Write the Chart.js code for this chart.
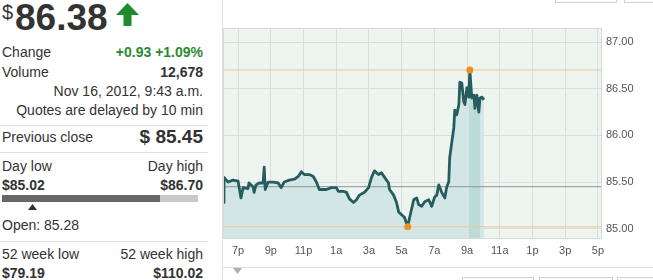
<!DOCTYPE html>
<html>
<head>
<meta charset="utf-8">
<script src="https://cdn.jsdelivr.net/npm/chart.js@4.4.0/dist/chart.umd.min.js"></script>
<style>
body{margin:0;width:653px;height:280px;overflow:hidden;background:#fff;font-family:Arial,"Liberation Sans",sans-serif;color:#333;position:relative}
.t{position:absolute;font-size:14px;line-height:16px;white-space:nowrap}
.r{right:450px;text-align:right}
.b{font-weight:bold}
.g{color:#2b8a2f}
.sep{position:absolute;left:0;width:208px;height:1px;background:#dde1e1}
.box{position:absolute;border:1px solid #cfd3d3;background:#fff}
#wrap{position:absolute;left:223px;top:0;width:430px;height:262px}
</style>
</head>
<body>
<div class="t" style="left:2px;top:2px;font-size:20px;line-height:20px">$</div>
<div class="t b" style="left:15px;top:-1px;font-size:37px;line-height:37px">86.38</div>
<svg style="position:absolute;left:116px;top:3px" width="23" height="23"><polygon points="11.5,0 23,12 15.5,12 15.5,23 7.5,23 7.5,12 0,12" fill="#1e8c2c"/></svg>

<div class="t" style="left:2px;top:44px">Change</div>
<div class="t r b g" style="top:44px">+0.93 +1.09%</div>
<div class="t" style="left:2px;top:64px">Volume</div>
<div class="t r b" style="top:64px">12,678</div>
<div class="t r" style="top:83px">Nov 16, 2012, 9:43 a.m.</div>
<div class="t r" style="top:102px">Quotes are delayed by 10 min</div>
<div class="sep" style="top:125px"></div>
<div class="t" style="left:2px;top:129px">Previous close</div>
<div class="t r b" style="top:127px;font-size:19px;line-height:20px">$ 85.45</div>
<div class="sep" style="top:152px"></div>
<div class="t" style="left:2px;top:158px">Day low</div>
<div class="t r" style="top:158px">Day high</div>
<div class="t b" style="left:2px;top:177px">$85.02</div>
<div class="t r b" style="top:177px">$86.70</div>
<div style="position:absolute;left:2px;top:195px;width:158px;height:7px;background:#676767"></div>
<div style="position:absolute;left:160px;top:195px;width:38px;height:7px;background:#c9c9c9"></div>
<svg style="position:absolute;left:28px;top:204px" width="9" height="6"><polygon points="4.5,0 9,6 0,6" fill="#333"/></svg>
<div class="t" style="left:2px;top:217px">Open: 85.28</div>
<div class="sep" style="top:241px"></div>
<div class="t" style="left:2px;top:246px">52 week low</div>
<div class="t r" style="top:246px">52 week high</div>
<div class="t b" style="left:2px;top:265px">$79.19</div>
<div class="t r b" style="top:265px">$110.02</div>

<div style="position:absolute;left:222px;top:0;width:1px;height:280px;background:#dde1e1"></div>
<div style="position:absolute;left:222px;top:267px;width:431px;height:1px;background:#dde1e1"></div>
<svg style="position:absolute;left:233px;top:268px" width="9" height="6"><polygon points="0,0 9,0 4.5,6" fill="#a7b0b4"/></svg>
<div class="box" style="left:555px;top:-6px;width:60px;height:7px"></div>
<div class="box" style="left:624px;top:-6px;width:40px;height:7px"></div>
<div class="box" style="left:462px;top:277px;width:70px;height:10px"></div>
<div class="box" style="left:539px;top:277px;width:72px;height:10px"></div>
<div class="box" style="left:617px;top:277px;width:50px;height:10px"></div>

<div id="wrap"><canvas id="myChart"></canvas></div>

<script>
// hours counted from midnight Nov 15 (24 = midnight, 33 = 9a Nov 16)
const hours = [18.08, 18.14, 18.39, 18.69, 19.00, 19.18, 19.31, 19.61, 19.67, 19.92, 19.98, 20.10, 20.29, 20.53, 20.60, 20.66,
  20.84, 21.15, 21.45, 21.64, 21.82, 22.13, 22.44, 22.68, 22.87, 23.05, 23.36, 23.60, 23.79, 23.97, 24.40, 24.71,
  25.01, 25.13, 25.44, 25.63, 25.81, 26.06, 26.24, 26.42, 26.73, 26.98, 27.16, 27.34, 27.59, 27.77, 27.96, 28.20,
  28.26, 28.51, 28.69, 28.82, 29.00, 29.18, 29.37, 29.49, 29.74, 29.92, 30.04, 30.23, 30.41, 30.66, 30.84, 31.02,
  31.15, 31.27, 31.45, 31.64, 31.76, 31.88, 31.94, 32.07, 32.19, 32.25, 32.37, 32.50, 32.56, 32.68, 32.80, 32.87,
  32.99, 33.11, 33.17, 33.29, 33.42, 33.48, 33.60, 33.72, 33.79, 33.91, 34.03];
const prices = [85.28, 85.55, 85.50, 85.52, 85.51, 85.33, 85.44, 85.43, 85.49, 85.45, 85.39, 85.47, 85.49, 85.49, 85.66, 85.42,
  85.50, 85.50, 85.49, 85.44, 85.50, 85.52, 85.53, 85.56, 85.61, 85.58, 85.58, 85.56, 85.50, 85.42, 85.42, 85.44,
  85.44, 85.40, 85.40, 85.39, 85.32, 85.28, 85.31, 85.36, 85.39, 85.44, 85.55, 85.62, 85.58, 85.60, 85.55, 85.49,
  85.42, 85.36, 85.28, 85.18, 85.15, 85.12, 85.02, 85.12, 85.31, 85.33, 85.26, 85.24, 85.29, 85.31, 85.24, 85.34,
  85.36, 85.47, 85.39, 85.33, 85.45, 85.50, 85.76, 85.93, 86.08, 86.27, 86.22, 86.33, 86.57, 86.56, 86.36, 86.33,
  86.51, 86.41, 86.70, 86.40, 86.43, 86.29, 86.43, 86.25, 86.40, 86.41, 86.38];
const tickHours = [19, 21, 23, 25, 27, 29, 31, 33, 35, 37, 39, 41];
const tickLabels = ['7p', '9p', '11p', '1a', '3a', '5a', '7a', '9a', '11a', '1p', '3p', '5p'];
const priceTicks = [85.00, 85.50, 86.00, 86.50, 87.00];
const prevClose = 85.45;
const dayHigh = 86.70, dayLow = 85.02;
const highHour = 33.17, lowHour = 29.37;
const sessionStart = 33.0, sessionEnd = 33.79;

const xMin = 18.08, xMax = 41.25;
const points = hours.map((h, i) => ({x: h, y: prices[i]}));
const sessionPoints = points.filter(p => p.x >= sessionStart && p.x <= sessionEnd);
const flat = v => [{x: xMin, y: v}, {x: xMax, y: v}];

const plotBg = {
  id: 'plotBg',
  beforeDraw(chart) {
    const a = chart.chartArea, c = chart.ctx;
    c.save();
    c.fillStyle = '#eef5f1';
    c.fillRect(a.left, a.top, a.right - a.left, a.bottom - a.top);
    c.restore();
  },
  afterDatasetsDraw(chart) {
    const a = chart.chartArea, c = chart.ctx;
    c.save();
    c.strokeStyle = '#d3dbd8';
    c.lineWidth = 1;
    c.strokeRect(a.left + 0.5, a.top + 0.5, a.right - a.left - 1, a.bottom - a.top - 1);
    c.restore();
  }
};

new Chart(document.getElementById('myChart'), {
  type: 'line',
  data: {
    datasets: [
      {data: points, fill: 'start', backgroundColor: '#d2e7e5', borderWidth: 0, pointRadius: 0, order: 10},
      {data: sessionPoints, fill: 'start', backgroundColor: '#bddbd9', borderWidth: 0, pointRadius: 0, order: 9},
      {data: flat(prevClose), borderColor: '#8d9393', borderWidth: 1, pointRadius: 0, order: 5},
      {data: flat(dayHigh), borderColor: '#f0c595', borderWidth: 1, pointRadius: 0, order: 5},
      {data: flat(dayLow), borderColor: '#f0c595', borderWidth: 1, pointRadius: 0, order: 5},
      {data: points, borderColor: '#265c5d', borderWidth: 2.8, borderJoinStyle: 'round', pointRadius: 0, order: 1},
      {type: 'scatter', data: [{x: highHour, y: dayHigh}, {x: lowHour, y: dayLow}],
        backgroundColor: '#ee8f22', borderWidth: 0, pointRadius: 3.5, order: 0}
    ]
  },
  options: {
    responsive: true,
    maintainAspectRatio: false,
    animation: false,
    layout: {autoPadding: false, padding: {top: 28, left: 0, right: 0, bottom: 0}},
    plugins: {legend: {display: false}, tooltip: {enabled: false}},
    scales: {
      x: {
        type: 'linear', min: xMin, max: xMax,
        afterBuildTicks: s => { s.ticks = tickHours.map(v => ({value: v})); },
        afterFit: s => { s.height = 23; },
        grid: {color: '#d7dedb', drawTicks: false},
        border: {display: false},
        ticks: {
          padding: 5, color: '#555', font: {family: 'Arial', size: 11}, maxRotation: 0,
          callback: v => tickLabels[tickHours.indexOf(v)]
        }
      },
      y: {
        position: 'right', min: 84.89, max: 87.15,
        afterBuildTicks: s => { s.ticks = priceTicks.map(v => ({value: v})); },
        afterFit: s => { s.width = 51; },
        grid: {color: '#d7dedb', drawTicks: false},
        border: {display: false},
        ticks: {padding: 4, color: '#555', font: {family: 'Arial', size: 11}, callback: v => v.toFixed(2)}
      }
    }
  },
  plugins: [plotBg]
});
</script>
</body>
</html>
